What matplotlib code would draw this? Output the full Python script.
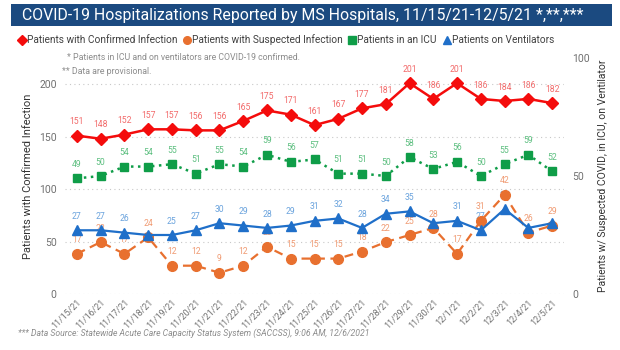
import matplotlib
matplotlib.use("Agg")
import matplotlib.pyplot as plt
from matplotlib.patches import Rectangle

# data
dates = ["11/15/21", "11/16/21", "11/17/21", "11/18/21", "11/19/21", "11/20/21", "11/21/21",
         "11/22/21", "11/23/21", "11/24/21", "11/25/21", "11/26/21", "11/27/21", "11/28/21",
         "11/29/21", "11/30/21", "12/1/21", "12/2/21", "12/3/21", "12/4/21", "12/5/21"]
confirmed = [151, 148, 152, 157, 157, 156, 156, 165, 175, 171, 161, 167, 177, 181, 201, 186, 201, 186, 184, 186, 182]
suspected = [17, 22, 17, 24, 12, 12, 9, 12, 20, 15, 15, 15, 18, 22, 25, 28, 17, 31, 42, 26, 29]
icu = [49, 50, 54, 54, 55, 51, 55, 54, 59, 56, 57, 51, 51, 50, 58, 53, 56, 50, 55, 59, 52]
ventilators = [27, 27, 26, 25, 25, 27, 30, 29, 28, 29, 31, 32, 28, 34, 35, 30, 31, 27, 36, 28, 30]
# labels Power BI dropped because they collided
vent_hidden = [3, 15, 19, 20]

RED, RED_L = "#F40C0C", "#F26A6A"
ORANGE, ORANGE_L = "#E8702F", "#F09B73"
GREEN, GREEN_L = "#0F9D48", "#5DBF80"
BLUE, BLUE_L = "#1F6FC9", "#6AA3DD"
GRAY = "#8C8C8C"
FONT = ["Roboto", "DejaVu Sans"]

plt.rcParams["font.family"] = FONT

fig = plt.figure(figsize=(6.2, 3.5), dpi=100)
W, H = 620, 350


def px(x, y):
    return x / W, 1 - y / H


# title bar
fig.patches.append(Rectangle(px(11, 26), (612 - 11) / W, 22 / H, transform=fig.transFigure,
                             facecolor="#1B4A80", edgecolor="none"))
fig.text(*px(22, 15.5), "COVID-19 Hospitalizations Reported by MS Hospitals, 11/15/21-12/5/21 *,**,***",
         color="white", fontsize=11.4, va="center", ha="left")

# legend row
legend_items = [(22, "D", RED, "Patients with Confirmed Infection"),
                (187, "o", ORANGE, "Patients with Suspected Infection"),
                (352, "s", GREEN, "Patients in an ICU"),
                (447, "^", BLUE, "Patients on Ventilators")]
for lx, mk, col, txt in legend_items:
    fig.lines.append(plt.Line2D([lx / W], [1 - 40 / H], marker=mk, color=col, markersize=5.5,
                                transform=fig.transFigure))
    fig.text(*px(lx + 5, 40), txt, color="#404040", fontsize=7.3, va="center", ha="left")

fig.text(*px(67, 57), "* Patients in ICU and on ventilators are COVID-19 confirmed.",
         color=GRAY, fontsize=6.3, va="center")
fig.text(*px(62, 72), "** Data are provisional.", color=GRAY, fontsize=6.3, va="center")
fig.text(*px(18, 333), "*** Data Source: Statewide Acute Care Capacity Status System (SACCSS), 9:06 AM, 12/6/2021",
         color=GRAY, fontsize=6.2, va="center", style="italic")

# plot area
ax = fig.add_axes([65 / W, 56 / H, 499 / W, 236 / H])
ax2 = ax.twinx()
x = list(range(len(dates)))

ax.set_xlim(-0.5, len(dates) - 0.5)
ax.set_ylim(0, 225)
ax2.set_ylim(0, 100)
ax.set_yticks([0, 50, 100, 150, 200])
ax2.set_yticks([0, 50, 100])
ax.grid(axis="y", color="#C8C8C8", linestyle=(0, (1, 3)), linewidth=0.8)
for a in (ax, ax2):
    for s in a.spines.values():
        s.set_visible(False)
    a.tick_params(length=0, labelsize=7.5, labelcolor="#707070")
ax.tick_params(axis="y", pad=6)
ax2.tick_params(axis="y", pad=6)
ax.set_xticks(x)
ax.set_xticklabels(dates, rotation=45, ha="right", rotation_mode="anchor", fontsize=6.4, color="#707070")
ax.tick_params(axis="x", pad=3)

ax.set_ylabel("Patients with Confirmed Infection", fontsize=8, color="#333333", labelpad=4)
ax2.set_ylabel("Patients w/ Suspected COVID, in ICU, on Ventilator", fontsize=7.5, color="#333333", labelpad=6)

ax.plot(x, confirmed, color=RED, lw=1.8, marker="D", markersize=6.5, zorder=3)
ax2.plot(x, suspected, color=ORANGE, lw=1.6, ls=(0, (4, 2.5)), marker="o", markersize=7, zorder=2)
ax2.plot(x, icu, color=GREEN, lw=1.8, ls=(0, (1, 1.8)), marker="s", markersize=6, zorder=3)
ax2.plot(x, ventilators, color=BLUE, lw=1.6, marker="^", markersize=7, zorder=4)


def labels(a, vals, col, hidden=()):
    for i, v in enumerate(vals):
        if i in hidden:
            continue
        a.annotate(str(v), (i, v), xytext=(0, 10), textcoords="offset points",
                   ha="center", va="center", fontsize=6.2, color=col, zorder=1)


labels(ax, confirmed, RED_L)
labels(ax2, suspected, ORANGE_L)
labels(ax2, icu, GREEN_L)
labels(ax2, ventilators, BLUE_L, vent_hidden)

fig.savefig("out.png", dpi=100)
